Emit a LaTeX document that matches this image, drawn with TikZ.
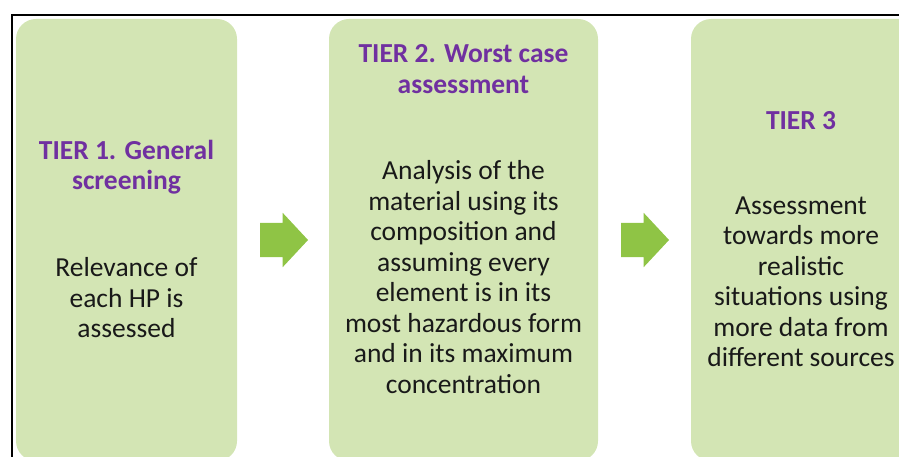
\documentclass[tikz,border=0pt]{standalone}
\usepackage{fontspec}
\setmainfont{Carlito}
\usepackage{xcolor}
\usetikzlibrary{shapes.arrows,positioning}
\definecolor{tierfill}{HTML}{D3E5B4}
\definecolor{tierpurple}{HTML}{7030A0}
\definecolor{tierarrow}{HTML}{8FC445}

\begin{document}
\begin{tikzpicture}[
    x=1pt, y=-1pt,
    tierbox/.style={rectangle, rounded corners=20pt, fill=tierfill, inner sep=0pt},
    tiertitle/.style={align=center, text=tierpurple, font=\fontsize{27.5}{30.5}\selectfont\bfseries},
    tierbody/.style={align=center, text=black!90, font=\fontsize{27.5}{30.5}\selectfont},
    tierarrowshape/.style={single arrow, fill=tierarrow, inner xsep=0pt, inner ysep=17pt,
        single arrow head extend=10pt, single arrow tip angle=94, minimum height=48pt}
]
    \useasboundingbox (0,0) rectangle (899,457);
    \clip (0,0) rectangle (899,457);

    % Frame
    \draw[line width=2pt] (12,460) -- (12,15) -- (902,15);

    % Tiers
    \node[tierbox, minimum width=221pt, minimum height=442pt] (box1) at (126.5,240) {};
    \node[tierbox, minimum width=269pt, minimum height=442pt] (box2) at (463.5,240) {};
    \node[tierbox, minimum width=240pt, minimum height=442pt] (box3) at (811,240) {};

    \node[tiertitle] (title1) at (126.5,167) {TIER 1. General\\screening};
    \node[tierbody] (body1) at (126.5,298) {Relevance of\\each HP is\\assessed};

    \node[tiertitle] (title2) at (463.5,69) {TIER 2. Worst case\\assessment};
    \node[tierbody] (body2) at (463.5,277) {Analysis of the\\material using its\\composition and\\assuming every\\element is in its\\most hazardous form\\and in its maximum\\concentration};

    \node[tiertitle] (title3) at (801,121) {TIER 3};
    \node[tierbody] (body3) at (801,282) {Assessment\\towards more\\realistic\\situations using\\more data from\\different sources};

    % Arrows
    \node[tierarrowshape] (arrA) at (276,240) {};
    \node[tierarrowshape] (arrB) at (637,240) {};
\end{tikzpicture}
\end{document}
